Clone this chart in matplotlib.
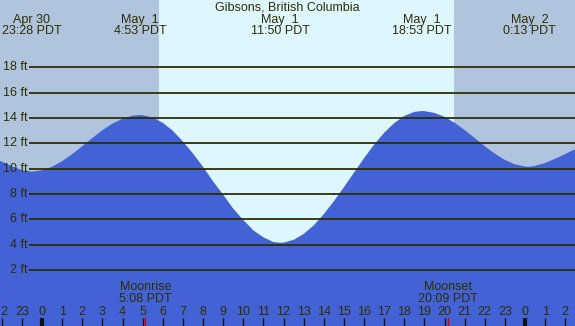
import matplotlib
matplotlib.use("Agg")
import matplotlib.pyplot as plt
import numpy as np

# ---- data (hours relative to May 1 00:00 PDT, heights in ft) ----
title = "Gibsons, British Columbia"
extreme_hours = [-0.53, 4.88, 11.83, 18.88, 24.22]
extreme_heights = [9.76, 14.23, 4.15, 14.55, 10.15]
extreme_dates = ["Apr 30", "May  1", "May  1", "May  1", "May  2"]
extreme_times = ["23:28 PDT", "4:53 PDT", "11:50 PDT", "18:53 PDT", "0:13 PDT"]

curve_hours = [-3, -2.5, -2, -1.5, -1, -0.5, 0, 0.5, 1, 1.5, 2, 2.5, 3, 3.5,
               4, 4.5, 5, 5.5, 6, 6.5, 7, 7.5, 8, 8.5, 9, 9.5, 10, 10.5, 11,
               11.5, 12, 12.5, 13, 13.5, 14, 14.5, 15, 15.5, 16, 16.5, 17,
               17.5, 18, 18.5, 19, 19.5, 20, 20.5, 21, 21.5, 22, 22.5, 23,
               23.5, 24, 24.5, 25, 25.5, 26, 26.5, 27]
curve_heights = [11.3, 10.9, 10.55, 10.2, 9.88, 9.76, 9.87, 10.15, 10.59,
                 11.14, 11.77, 12.42, 13.03, 13.55, 13.94, 14.18, 14.22,
                 14.03, 13.62, 12.99, 12.15, 11.2, 10.15, 9.0, 7.95, 6.85,
                 5.95, 5.13, 4.58, 4.21, 4.16, 4.38, 4.84, 5.52, 6.40, 7.42,
                 8.53, 9.68, 10.82, 11.89, 12.83, 13.59, 14.16, 14.48, 14.54,
                 14.40, 14.09, 13.62, 13.05, 12.42, 11.77, 11.18, 10.69,
                 10.34, 10.17, 10.22, 10.45, 10.78, 11.15, 11.55, 11.95]

sunrise, sunset = 5.81, 20.47
moon_events = [("Moonrise", "5:08 PDT", 5.133), ("Moonset", "20:09 PDT", 20.15)]
height_ticks = [2, 4, 6, 8, 10, 12, 14, 16, 18]
hour_ticks = list(range(-2, 27))

# ---- styling ----
NIGHT = "#B0C4DE"
DAY = "#DEF7FF"
WATER = "#4262D6"
INK = "#2E2E00"
FONT = "Liberation Sans"
FS = 9

W, H = 575, 326
fig = plt.figure(figsize=(W / 100, H / 100), dpi=100)
ax = fig.add_axes([0, 0, 1, 1])
px_per_h = 20.125
x0 = -42 / px_per_h
x1 = (W - 42) / px_per_h
px_per_ft = 12.67
ytop = 2 + 270 / px_per_ft
ybot = 2 - (H - 270) / px_per_ft
ax.set_xlim(x0, x1)
ax.set_ylim(ybot, ytop)
ax.axis("off")


def px2y(py):
    return 2 + (270 - py) / px_per_ft


def px2x(px):
    return (px - 42) / px_per_h


ax.axvspan(x0, sunrise, color=NIGHT, lw=0, zorder=0)
ax.axvspan(sunrise, sunset, color=DAY, lw=0, zorder=0)
ax.axvspan(sunset, x1, color=NIGHT, lw=0, zorder=0)

pts = sorted(zip(curve_hours + extreme_hours, curve_heights + extreme_heights))
hx = np.array([p[0] for p in pts])
hy = np.array([p[1] for p in pts])
ax.fill_between(hx, ybot - 5, hy, color=WATER, lw=0, zorder=1)

for v in height_ticks:
    ax.plot([px2x(29), x1], [v, v], color=INK, lw=1.3, zorder=2,
            solid_capstyle="butt")
    ax.text(px2x(27.5), v, f"{v} ft", ha="right", va="center",
            fontsize=FS, family=FONT, color=INK, zorder=3)

ax.text(px2x(W / 2), px2y(7.5), title, ha="center", va="center",
        fontsize=FS, family=FONT, color=INK, zorder=3)

for h, d, t in zip(extreme_hours, extreme_dates, extreme_times):
    ax.text(h, px2y(19.8), d, ha="center", va="center", fontsize=FS,
            family=FONT, color=INK, zorder=3)
    ax.text(h, px2y(31.5), t, ha="center", va="center", fontsize=FS,
            family=FONT, color=INK, zorder=3)

for name, t, h in moon_events:
    ax.text(h, px2y(287.5), name, ha="center", va="center", fontsize=FS,
            family=FONT, color=INK, zorder=3)
    ax.text(h, px2y(299.5), t, ha="center", va="center", fontsize=FS,
            family=FONT, color=INK, zorder=3)
    ax.plot([h, h], [px2y(318), ybot], color="#E00000", lw=1.0, zorder=3)

for h in hour_ticks:
    lab = str(h % 24)
    if h == hour_ticks[0]:
        # leftmost label is shown only partly at the edge, as in the original
        ax.text(px2x(0.5), px2y(312), lab[-1], ha="left", va="center",
                fontsize=FS, family=FONT, color=INK, zorder=3)
    else:
        ax.text(h, px2y(312), lab, ha="center", va="center", fontsize=FS,
                family=FONT, color=INK, zorder=3)
    lw = 3.0 if h % 24 == 0 else 1.0
    ax.plot([h, h], [px2y(318), ybot], color="#111111", lw=lw, zorder=3,
            solid_capstyle="butt")

fig.savefig("out.png", dpi=100)
